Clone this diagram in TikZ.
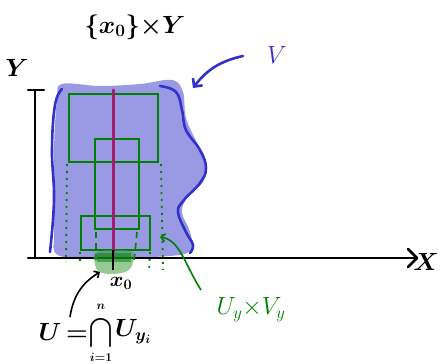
\documentclass[tikz,border=0pt]{standalone}
\usepackage{amsmath}
\usetikzlibrary{arrows.meta}
\definecolor{blobfill}{RGB}{154,154,228}
\definecolor{blueline}{RGB}{50,50,200}
\definecolor{darkgreen}{RGB}{0,128,0}
\definecolor{purp}{RGB}{160,30,110}
\definecolor{softgreen}{RGB}{60,160,60}
\tikzset{
  axis/.style={line width=2.6pt,black,line cap=round},
  vline/.style={line width=2.6pt,blueline,line cap=round},
  grect/.style={draw=darkgreen,line width=1.6pt},
  gdot/.style={darkgreen,line width=1.8pt,dash pattern=on 2pt off 5pt},
  gdash/.style={darkgreen,line width=1.6pt,dash pattern=on 6pt off 5pt},
  lab/.style={inner sep=0pt,font=\fontsize{26}{30}\selectfont\boldmath},
  ulab/.style={inner sep=0pt,font=\fontsize{24}{28}\selectfont\boldmath},
  limlab/.style={inner sep=0pt,font=\fontsize{13}{15}\selectfont\boldmath},
}
\begin{document}
\begin{tikzpicture}[x=1pt,y=-1pt]
\useasboundingbox (0,0) rectangle (440,364);
% blob
\fill[blobfill] plot[smooth cycle,tension=0.6] coordinates {(62,84) (100,86) (140,84) (172,80) (183,92) (186,118) (198,145) (206,162) (203,182) (188,196) (182,212) (190,232) (191,250) (170,256) (100,258) (58,255) (54,230) (54,150) (57,100)};
% blue outlines
\draw[vline] plot[smooth,tension=0.7] coordinates {(62,89) (55,105) (52,150) (54,200) (50,252)};
\draw[vline] plot[smooth,tension=0.7] coordinates {(160,86) (176,92) (182,110) (186,130) (200,150) (206,168) (200,183) (184,200) (178,212) (186,232) (193,245) (190,253)};
% axes
\node[lab] (Ylab) at (17,68) {$Y$};
\node[lab,anchor=east] (Xlab) at (439,262) {$X$};
\coordinate (ytop) at (35,90);
\coordinate (orig) at (35,258);
\coordinate (xend) at (417,258);
\draw[axis] (28,90) -- (44,90);
\draw[axis] (ytop) -- (orig);
\draw[axis] (28,258) -- (xend);
\draw[axis,line join=round] (408,249) -- (xend) -- (408,267);
% green rectangles
\draw[grect] (69,94) rectangle (158,162);
\draw[grect] (95,139) rectangle (139,229);
\draw[grect] (81,216) rectangle (150,250);
% dotted / dashed extensions
\draw[gdot] (67,164) -- (66,262);
\draw[gdot] (161,164) -- (163,270);
\draw[gdash] (96,232) -- (96,262);
\draw[gdash] (137,232) -- (134,262);
\draw[gdot] (80,252) -- (80,264);
\draw[gdot] (150,252) -- (149,272);
% green shaded blob at x0
\fill[softgreen,opacity=0.55] plot[smooth cycle,tension=0.7] coordinates {(97,252) (130,251) (133,262) (125,272) (102,273) (95,264)};
\fill[darkgreen,opacity=0.5] (97,253) rectangle (131,262);
% purple line {x0} x Y
\draw[purp,line width=3pt,line cap=round] (113,90) -- (113,252);
\draw[black,line width=2.4pt] (113,250) -- (113,270);
% labels
\node[lab,font=\fontsize{24}{28}\selectfont\boldmath] (fib) at (135,27) {$\{x_0\}{\times}Y$};
\node[lab,text=blueline,font=\fontsize{32}{36}\selectfont] (Vlab) at (277,55) {$V$};
\node[lab,font=\fontsize{20}{24}\selectfont\boldmath] (x0) at (121,283) {$x_0$};
\node[ulab,font=\fontsize{21}{24}\selectfont\boldmath] (Ucap) at (101,333) {$\displaystyle\bigcap$};
\node[ulab,anchor=east] (Uleft) at (88,332) {$U\,{=}$};
\node[ulab,anchor=west] (Uright) at (115,332) {$U_{y_i}$};
\node[limlab] (Unn) at (101,307) {$n$};
\node[limlab] (Ui1) at (101,357) {$i{=}1$};
\node[lab,text=darkgreen,font=\fontsize{24}{28}\selectfont] (UVlab) at (251,310) {$U_y{\times}V_y$};
% connectors
\coordinate (Varr) at (193,88);
\coordinate (Uarr) at (100,272);
\coordinate (UVarr) at (160,237);
\draw[blueline,line width=2.6pt,line cap=round,-{Straight Barb[length=6pt,width=12pt]}] (243,56) to[bend right=20] (Varr);
\draw[black,line width=1.6pt,-{Straight Barb[length=4pt,width=8pt]}] (70,317) to[bend left=25] (Uarr);
\draw[darkgreen,line width=1.6pt,-{Straight Barb[length=4pt,width=8pt]}] (201,290) .. controls (185,265) and (180,240) .. (UVarr);
\end{tikzpicture}
\end{document}
